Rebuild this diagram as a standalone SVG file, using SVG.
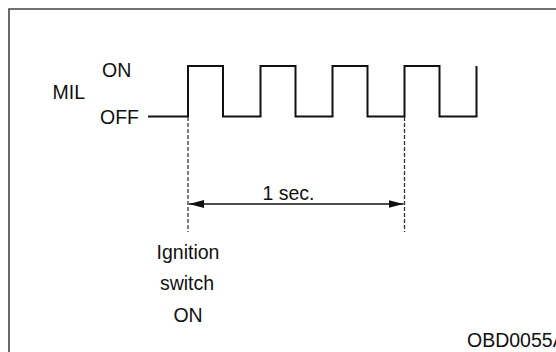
<svg xmlns="http://www.w3.org/2000/svg" width="556" height="352" viewBox="0 0 556 352">
<style>
text{font-family:"Liberation Sans",Arial,sans-serif;font-size:19.5px;fill:#111}
.wave{fill:none;stroke:#111;stroke-width:2}
.dash{fill:none;stroke:#333;stroke-width:1.3;stroke-dasharray:4,2}
.dim{stroke:#111;stroke-width:1.6}
</style>
<defs>
<marker id="ah" markerWidth="15" markerHeight="8" refX="15" refY="4" orient="auto-start-reverse" markerUnits="userSpaceOnUse">
<path d="M0,0 L15,4 L0,8 Z" fill="#111"/>
</marker>
</defs>
<path d="M9,352 V9 H556" fill="none" stroke="#444" stroke-width="1.6"/>
<g id="labels">
<text x="52.5" y="98.5">MIL</text>
<text x="102" y="76.5">ON</text>
<text x="100" y="124">OFF</text>
</g>
<g id="waveform">
<path class="wave" d="M148,116.5 H188 V66 H223 V116.5 H260.5 V66 H295.5 V116.5 H332.5 V66 H367.5 V116.5 H404.5 V66 H439.5 V116.5 H476.5 V66"/>
</g>
<g id="connectors">
<line class="dash" x1="188" y1="117" x2="188" y2="232"/>
<line class="dash" x1="404.5" y1="117" x2="404.5" y2="232"/>
<line class="dim" x1="189" y1="204" x2="403.5" y2="204" marker-start="url(#ah)" marker-end="url(#ah)"/>
</g>
<g id="interval">
<text x="288.5" y="199.5" text-anchor="middle">1 sec.</text>
</g>
<g id="ignition">
<text x="188" y="258.5" text-anchor="middle">Ignition</text>
<text x="187" y="290" text-anchor="middle">switch</text>
<text x="188" y="321.5" text-anchor="middle">ON</text>
</g>
<text x="467" y="346.5">OBD0055A</text>
</svg>
